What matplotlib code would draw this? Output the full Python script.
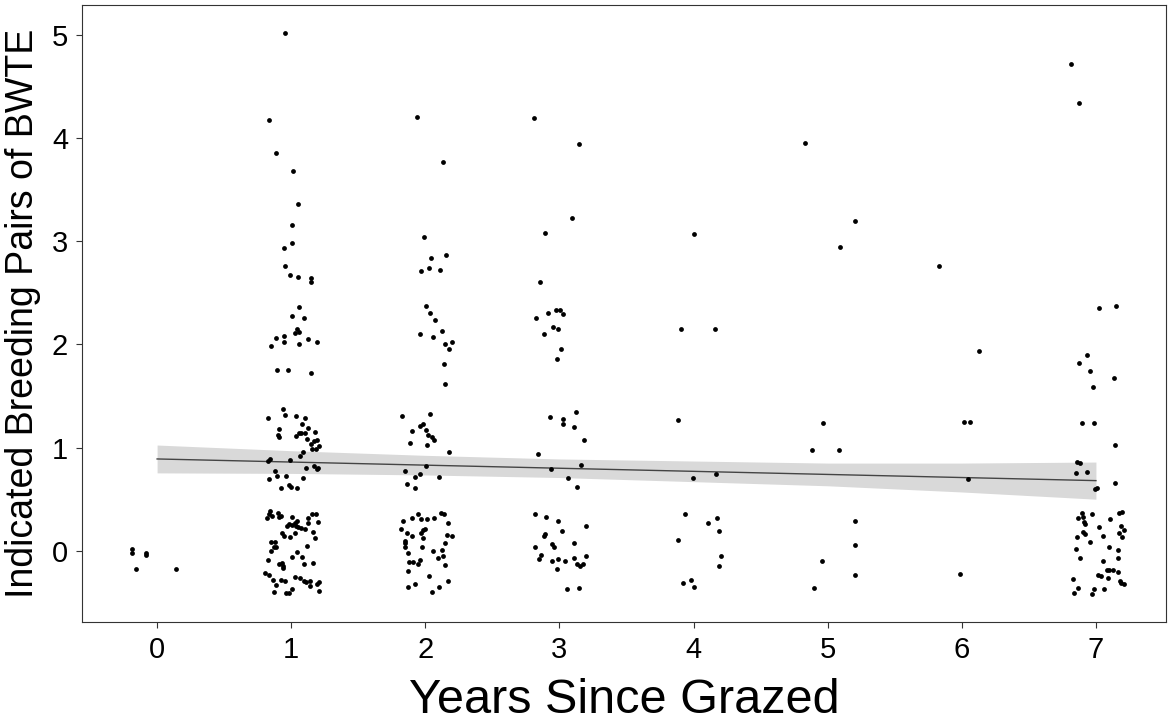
import matplotlib.pyplot as plt
import numpy as np

yr0_x = [-0.184, -0.184, -0.080, -0.084, -0.160, 0.140]
yr0_y = [0.020, -0.026, -0.026, -0.040, -0.180, -0.180]

yr1_x = [0.957, 0.837, 0.885, 1.014, 1.051, 1.004, 1.004, 0.947, 0.957, 0.994, 1.051, 1.150, 1.150,
         1.056, 1.004, 1.098, 1.046, 1.029, 1.059, 0.944, 0.890, 0.944, 1.126, 1.059, 1.193, 0.852,
         0.895, 0.979, 1.150, 0.939, 0.952, 0.825, 1.036, 1.103, 1.079, 0.909, 1.126, 1.071, 1.056,
         1.103, 1.178, 0.904, 0.912, 1.036, 1.116, 1.168, 1.193, 1.146, 1.205, 1.185, 1.158, 1.088,
         1.068, 0.840, 0.827, 0.991, 1.108, 1.168, 1.198, 1.193, 0.880, 0.892, 0.962, 1.086, 0.833,
         0.922, 0.987, 0.999, 1.041,
         0.845, 0.835, 0.818, 0.857, 0.902, 0.922, 0.907, 1.009, 1.046, 1.123, 1.158, 1.188, 1.203,
         1.126, 0.986, 0.967, 1.009, 1.029, 1.036, 1.054, 1.074, 1.106, 1.163, 0.930, 0.949, 0.991,
         1.031, 1.178, 0.852, 0.877, 0.872, 0.887, 0.850, 1.118, 1.046, 1.004, 1.079, 0.825, 0.907,
         0.934, 0.937, 0.937, 1.098, 1.163, 0.807, 0.835, 0.867, 0.887, 0.924, 0.954, 1.031, 1.066,
         1.094, 1.108, 1.141, 1.141, 1.191, 1.205, 0.870, 0.959, 0.986, 1.009, 1.205]
yr1_y = [5.017, 4.176, 3.853, 3.685, 3.366, 3.162, 2.984, 2.936, 2.762, 2.671, 2.658, 2.645, 2.603,
         2.367, 2.280, 2.261, 2.154, 2.115, 2.122, 2.080, 2.067, 2.025, 2.054, 2.006, 2.019, 1.986,
         1.751, 1.751, 1.722, 1.376, 1.318, 1.286, 1.305, 1.286, 1.228, 1.185, 1.189, 1.146, 1.137,
         1.141, 1.153, 1.118, 1.102, 1.114, 1.082, 1.063, 1.073, 1.034, 1.011, 0.991, 0.982, 0.962,
         0.923, 0.885, 0.869, 0.882, 0.801, 0.817, 0.807, 0.792, 0.775, 0.720, 0.720, 0.710, 0.691,
         0.604, 0.633, 0.620, 0.613,
         0.381, 0.355, 0.320, 0.339, 0.365, 0.333, 0.323, 0.323, 0.291, 0.313, 0.355, 0.359, 0.278,
         0.271, 0.255, 0.242, 0.249, 0.271, 0.236, 0.230, 0.223, 0.213, 0.181, 0.171, 0.148, 0.129,
         0.171, 0.119, 0.087, 0.084, 0.039, 0.032, -0.007, 0.042, -0.010, -0.058, -0.065, -0.090, -0.126,
         -0.119, -0.145, -0.168, -0.126, -0.123, -0.213, -0.239, -0.281, -0.332, -0.281, -0.291, -0.255, -0.268,
         -0.294, -0.303, -0.291, -0.346, -0.320, -0.300, -0.400, -0.414, -0.414, -0.375, -0.394]

yr2_x = [1.936, 2.134, 1.993, 2.154, 2.043, 2.030, 1.970, 2.107, 2.003, 2.038, 2.075, 1.961, 2.060,
         2.127, 2.145, 2.201, 2.174, 2.140, 2.150, 1.824, 2.038, 1.981, 1.963, 1.904, 2.008, 2.020,
         2.048, 2.065, 1.884, 2.013, 2.174, 2.003, 1.851, 1.958, 1.921, 2.102, 1.866, 1.921,
         2.120, 2.137, 1.946, 1.899, 1.966, 2.013, 2.065, 1.836, 2.169, 1.819, 1.996, 1.981, 1.866,
         1.970, 1.903, 2.164, 2.197, 1.983, 1.851, 1.847, 2.145, 1.847, 1.976, 2.055, 2.127, 1.871,
         2.132, 2.097, 1.881, 1.908, 1.961, 1.946, 2.150, 1.871, 2.030, 1.871, 1.926, 2.050, 2.102,
         2.167]
yr2_y = [4.209, 3.766, 3.046, 2.868, 2.842, 2.745, 2.713, 2.726, 2.371, 2.306, 2.241, 2.099, 2.074,
         2.135, 2.006, 2.019, 1.957, 1.815, 1.612, 1.311, 1.328, 1.228, 1.205, 1.163, 1.170, 1.127,
         1.098, 1.073, 1.049, 1.024, 0.959, 0.820, 0.769, 0.746, 0.711, 0.717, 0.652, 0.604,
         0.371, 0.352, 0.352, 0.320, 0.304, 0.304, 0.320, 0.291, 0.265, 0.210, 0.210, 0.197, 0.171,
         0.168, 0.142, 0.155, 0.142, 0.119, 0.094, 0.078, 0.071, 0.039, 0.032, 0.000, 0.007, -0.026,
         -0.048, -0.071, -0.104, -0.104, -0.087, -0.126, -0.139, -0.197, -0.242, -0.349, -0.323, -0.404, -0.349,
         -0.297]

yr3_x = [2.808, 3.148, 3.096, 2.892, 2.855, 2.974, 3.002, 2.917, 3.029, 2.825, 2.950, 2.992, 2.883,
         3.012, 2.982, 3.124, 2.930, 3.029, 3.024, 3.111, 3.185, 2.840, 3.159, 2.939, 3.064, 3.133,
         2.815, 2.897, 2.987, 3.196, 3.017, 2.892, 2.887, 3.106, 2.942, 2.960, 2.818, 2.865, 3.196,
         2.850, 2.945, 2.992, 3.039, 3.111, 3.129, 3.153, 3.173, 2.982, 3.059, 3.148]
yr3_y = [4.196, 3.944, 3.230, 3.078, 2.610, 2.338, 2.329, 2.306, 2.297, 2.258, 2.168, 2.148, 2.099,
         1.957, 1.863, 1.347, 1.298, 1.282, 1.231, 1.195, 1.073, 0.937, 0.833, 0.788, 0.701, 0.617,
         0.352, 0.323, 0.291, 0.236, 0.194, 0.162, 0.139, 0.075, 0.061, 0.039, 0.039, -0.042, -0.048,
         -0.084, -0.097, -0.078, -0.097, -0.068, -0.133, -0.145, -0.129, -0.178, -0.368, -0.362]

yr4_x = [4.001, 3.906, 4.157, 3.886, 3.996, 4.170, 3.934, 4.172, 4.110, 4.190, 3.886, 4.205,
         4.190, 3.979, 3.921, 4.001]
yr4_y = [3.072, 2.148, 2.154, 1.269, 0.707, 0.746, 0.352, 0.320, 0.265, 0.187, 0.100, -0.048,
         -0.152, -0.281, -0.313, -0.349]

yr5_x = [4.831, 5.203, 5.094, 4.962, 4.880, 5.084, 5.203, 5.203, 4.958, 5.203, 4.898]
yr5_y = [3.950, 3.195, 2.943, 1.243, 0.979, 0.979, 0.288, 0.058, -0.097, -0.239, -0.356]

yr6_x = [5.832, 6.130, 6.018, 6.058, 6.046, 5.989]
yr6_y = [2.765, 1.938, 1.250, 1.250, 0.691, -0.226]

yr7_x = [6.814, 6.873, 7.020, 7.149, 6.930, 6.871, 6.955, 7.134, 6.980, 6.893, 6.985, 7.144,
         6.856, 6.883, 6.851, 6.933, 7.140, 6.990, 7.005,
         6.893, 6.866, 6.903, 6.970, 7.107, 7.174, 7.194, 6.908, 6.920, 7.020, 7.189, 7.206, 6.906,
         6.916, 6.856, 7.055, 7.174, 7.191, 6.955, 6.851, 7.097, 7.164, 6.883, 7.055, 7.164, 7.080,
         7.099, 7.129, 7.164, 7.012, 7.035, 7.090, 6.829, 7.177, 7.189, 7.209, 6.866, 6.836, 6.983,
         7.060, 6.970]
yr7_y = [4.719, 4.338, 2.352, 2.377, 1.902, 1.822, 1.747, 1.679, 1.589, 1.243, 1.237, 1.027,
         0.859, 0.850, 0.756, 0.768, 0.659, 0.594, 0.604,
         0.368, 0.320, 0.326, 0.352, 0.310, 0.362, 0.378, 0.275, 0.258, 0.226, 0.236, 0.197, 0.181,
         0.162, 0.129, 0.148, 0.168, 0.136, 0.087, 0.022, 0.032, 0.010, -0.068, -0.100, -0.071, -0.191,
         -0.187, -0.184, -0.203, -0.233, -0.242, -0.265, -0.274, -0.291, -0.317, -0.326, -0.362, -0.410, -0.375,
         -0.371, -0.417]

# linear fit and its confidence band
fit_x = [0, 1, 2, 3, 4, 5, 6, 7]
fit_y = [0.89, 0.86, 0.83, 0.80, 0.77, 0.74, 0.71, 0.68]
fit_lo = [0.755, 0.75, 0.735, 0.71, 0.67, 0.63, 0.57, 0.50]
fit_hi = [1.025, 0.97, 0.925, 0.89, 0.87, 0.85, 0.85, 0.86]

xs = yr0_x + yr1_x + yr2_x + yr3_x + yr4_x + yr5_x + yr6_x + yr7_x
ys = yr0_y + yr1_y + yr2_y + yr3_y + yr4_y + yr5_y + yr6_y + yr7_y

plt.rcParams['font.family'] = ['Liberation Sans', 'DejaVu Sans']

fig = plt.figure(figsize=(11.68, 7.26), dpi=100)
ax = fig.add_axes([0.0702, 0.1433, 0.9278, 0.8498])

ax.fill_between(fit_x, fit_lo, fit_hi, color='#d9d9d9', lw=0, zorder=1)
ax.plot(fit_x, fit_y, color='#444444', lw=1.0, zorder=2)
ax.scatter(xs, ys, s=12, color='black', lw=0, zorder=3)

ax.set_xlim(-0.56, 7.52)
ax.set_ylim(-0.69, 5.29)
ax.set_xticks(range(8))
ax.set_yticks(range(6))
ax.tick_params(labelsize=21, length=4, width=0.8, color='#333333', labelcolor='black', pad=6)

for s in ax.spines.values():
    s.set_color('#333333')
    s.set_linewidth(0.8)

ax.set_xlabel('Years Since Grazed', fontsize=35, labelpad=10)
ax.set_ylabel('Indicated Breeding Pairs of BWTE', fontsize=27, labelpad=8)

fig.savefig('out.png', dpi=100)
